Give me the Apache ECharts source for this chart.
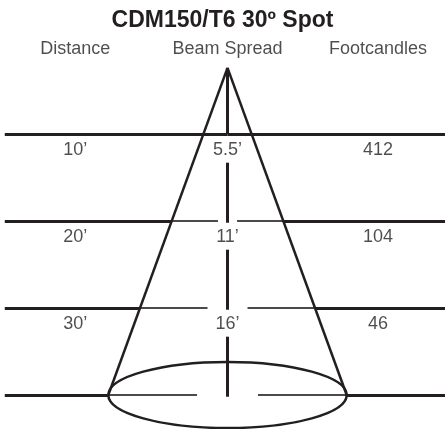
<!DOCTYPE html>
<html>
<head>
<meta charset="utf-8">
<script src="https://cdn.jsdelivr.net/npm/echarts@6/dist/echarts.min.js"></script>
<style>
  html, body { margin: 0; padding: 0; background: #fff; }
  #chart { width: 445px; height: 429px; }
</style>
</head>
<body>
<div id="chart"></div>
<script>
// table values
const distanceFt = [10, 20, 30];
const beamSpreadFt = [5.5, 11, 16];
const footcandles = [412, 104, 46];
const headers = ['Distance', 'Beam Spread', 'Footcandles'];
const titleText = 'CDM150/T6 30\u00ba Spot';

// diagram layout (in feet, the axes do the pixel mapping)
const APEX = 2.4;        // where the cone starts
const BASE = 40;         // floor line
const BASE_HALF = 13.7;  // half width of the cone at the floor
const ELLIPSE_RY = 3.8;
const COL_X = [-17.5, 0, 17.3];
const LEFT_END = -25.6, RIGHT_END = 25;
const innerGap = [0, 1.1, 2.3, 3.5]; // gap round the center line, per rule
const INK = '#231f20';
const GREY = '#4a4a4a';

const rules = distanceFt.concat([BASE]);
const half = d => BASE_HALF * (d - APEX) / (BASE - APEX);
const ft = v => v + '\u2019';

let segs = [];
rules.forEach((d, i) => {
  const h = half(d);
  const outer = { color: INK, width: 3, opacity: 1 };
  segs.push({ coords: [[LEFT_END, d], [-h, d]], lineStyle: outer });
  segs.push({ coords: [[h, d], [RIGHT_END, d]], lineStyle: outer });
  const inner = i === 0 ? outer : { color: GREY, width: 2, opacity: 1 };
  segs.push({ coords: [[-h, d], [-innerGap[i], d]], lineStyle: inner });
  segs.push({ coords: [[innerGap[i], d], [h, d]], lineStyle: inner });
});
// cone edges
const edge = { color: INK, width: 2.5, opacity: 1 };
segs.push({ coords: [[0, APEX], [-BASE_HALF, BASE]], lineStyle: edge });
segs.push({ coords: [[0, APEX], [BASE_HALF, BASE]], lineStyle: edge });
// center line, broken where the spread value sits
const center = { color: INK, width: 3, opacity: 1 };
segs.push({ coords: [[0, APEX], [0, rules[0]]], lineStyle: center });
for (let i = 0; i < distanceFt.length; i++) {
  segs.push({ coords: [[0, rules[i] + 3.3], [0, rules[i + 1] + 0.2]], lineStyle: center });
}

const textStyle = { fontFamily: 'Liberation Sans, Arial, sans-serif', fontSize: 18, color: INK };
function labelSeries(points) {
  return {
    type: 'scatter',
    symbolSize: 0,
    silent: true,
    data: points,
    label: {
      show: true,
      position: 'inside',
      formatter: p => p.data[2],
      ...textStyle
    }
  };
}

const rowText = [];
distanceFt.forEach((d, i) => {
  const y = d + 1.84;
  rowText.push([COL_X[0], y, ft(d)]);
  rowText.push([COL_X[1], y, ft(beamSpreadFt[i])]);
  rowText.push([COL_X[2], y, String(footcandles[i])]);
});
const headText = headers.map((t, i) => [COL_X[i], 0.2, t]);

const chart = echarts.init(document.getElementById('chart'));
chart.setOption({
  animation: false,
  title: {
    text: titleText,
    left: 'center',
    top: 4,
    textStyle: { fontFamily: 'Liberation Sans, Arial, sans-serif', fontSize: 23, fontWeight: 'bold', color: INK }
  },
  grid: { left: 0, right: 0, top: 0, bottom: 0 },
  xAxis: { type: 'value', min: -26.15, max: 25, show: false },
  yAxis: { type: 'value', min: -5.4, max: 43.91, inverse: true, show: false },
  series: [
    {
      type: 'lines',
      coordinateSystem: 'cartesian2d',
      silent: true,
      data: segs
    },
    {
      type: 'custom',
      silent: true,
      data: [[0, BASE]],
      renderItem: (params, api) => {
        const c = api.coord([0, BASE]);
        const s = api.size([BASE_HALF, ELLIPSE_RY]);
        return {
          type: 'ellipse',
          shape: { cx: c[0], cy: c[1], rx: s[0], ry: s[1] },
          style: { fill: 'none', stroke: INK, lineWidth: 2.5 }
        };
      }
    },
    labelSeries(headText),
    labelSeries(rowText)
  ]
});
</script>
</body>
</html>
